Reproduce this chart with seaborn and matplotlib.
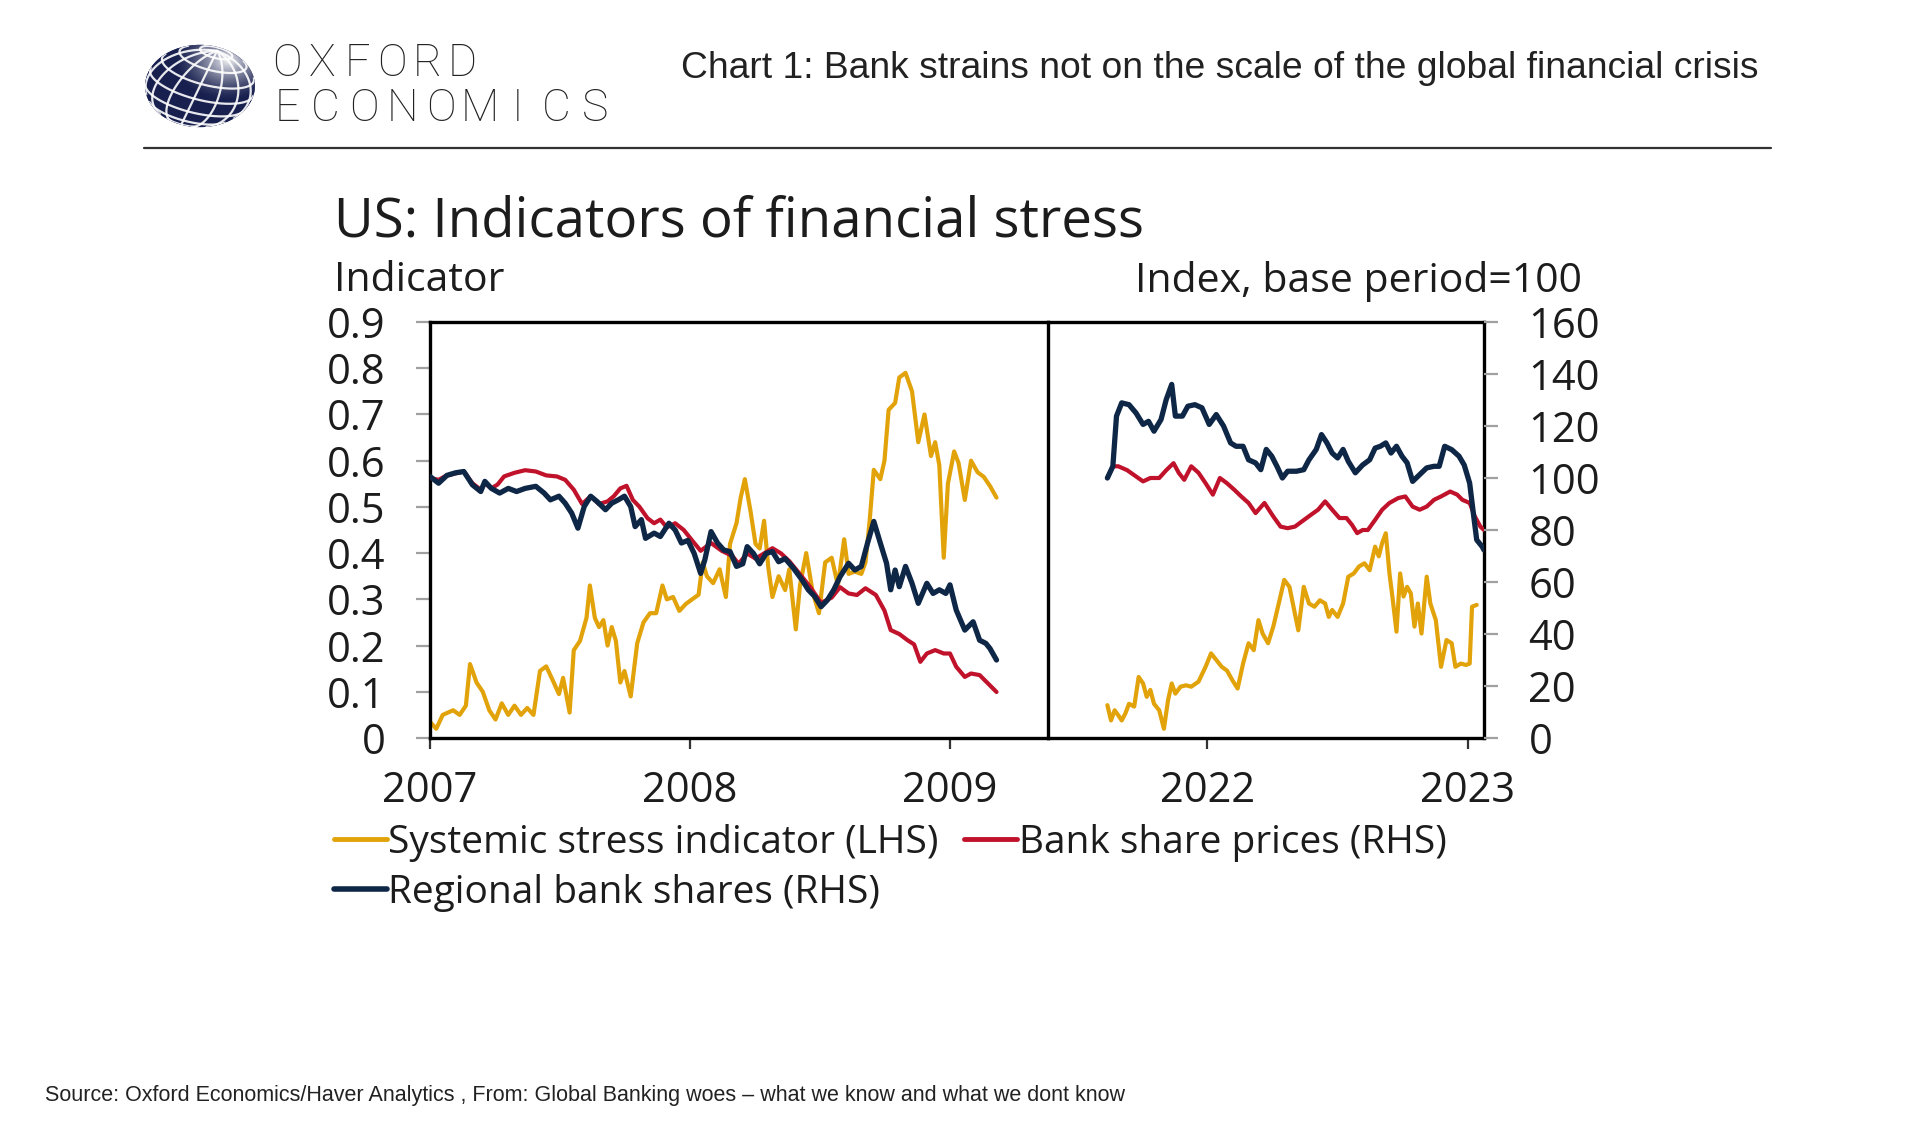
import numpy as np
import pandas as pd
import matplotlib
matplotlib.use("Agg")
import matplotlib.pyplot as plt
import seaborn as sns
from matplotlib.lines import Line2D
from matplotlib.patches import Ellipse
from matplotlib.colors import to_rgb
from matplotlib import font_manager

# ---------------- data ----------------
# 2007-09 panel
gfc_stress_year = [2007.000, 2007.024, 2007.049, 2007.089, 2007.114, 2007.138, 2007.154, 2007.179, 2007.203,
                   2007.228, 2007.252, 2007.276, 2007.301, 2007.325, 2007.350, 2007.374, 2007.398, 2007.423,
                   2007.447, 2007.472, 2007.496, 2007.512, 2007.537, 2007.553, 2007.577, 2007.602, 2007.615,
                   2007.634, 2007.650, 2007.667, 2007.683, 2007.699, 2007.715, 2007.732, 2007.748, 2007.772,
                   2007.797, 2007.821, 2007.846, 2007.870, 2007.894, 2007.911, 2007.935, 2007.959, 2007.984,
                   2008.008, 2008.033, 2008.049, 2008.065, 2008.089, 2008.114, 2008.138, 2008.154, 2008.179,
                   2008.195, 2008.211, 2008.233, 2008.252, 2008.268, 2008.285, 2008.301, 2008.317, 2008.341,
                   2008.366, 2008.382, 2008.407, 2008.423, 2008.447, 2008.472, 2008.496, 2008.520, 2008.545,
                   2008.569, 2008.593, 2008.610, 2008.634, 2008.659, 2008.675, 2008.691, 2008.707, 2008.732,
                   2008.748, 2008.764, 2008.789, 2008.805, 2008.829, 2008.854, 2008.878, 2008.902, 2008.927,
                   2008.943, 2008.959, 2008.976, 2008.992, 2009.016, 2009.033, 2009.057, 2009.081, 2009.106,
                   2009.130, 2009.154, 2009.179]
gfc_stress = [0.035, 0.02, 0.05, 0.06, 0.05, 0.07, 0.16, 0.12, 0.10,
              0.06, 0.04, 0.075, 0.05, 0.07, 0.05, 0.065, 0.05, 0.145,
              0.155, 0.125, 0.095, 0.13, 0.055, 0.19, 0.21, 0.26, 0.33,
              0.26, 0.24, 0.255, 0.20, 0.24, 0.21, 0.12, 0.145, 0.09,
              0.205, 0.25, 0.27, 0.27, 0.33, 0.30, 0.305, 0.275, 0.29,
              0.30, 0.31, 0.38, 0.35, 0.335, 0.365, 0.305, 0.42, 0.465,
              0.52, 0.56, 0.49, 0.42, 0.41, 0.47, 0.37, 0.305, 0.35,
              0.32, 0.365, 0.235, 0.33, 0.40, 0.315, 0.27, 0.38, 0.39,
              0.33, 0.43, 0.355, 0.36, 0.355, 0.38, 0.47, 0.58, 0.56,
              0.60, 0.71, 0.725, 0.78, 0.79, 0.75, 0.64, 0.70, 0.61,
              0.64, 0.59, 0.39, 0.55, 0.62, 0.595, 0.515, 0.60, 0.575,
              0.565, 0.545, 0.52]

gfc_bank_year = [2007.000, 2007.033, 2007.065, 2007.130, 2007.163, 2007.195, 2007.211, 2007.236, 2007.260,
                 2007.285, 2007.325, 2007.366, 2007.407, 2007.447, 2007.488, 2007.520, 2007.553, 2007.585,
                 2007.618, 2007.650, 2007.683, 2007.707, 2007.732, 2007.756, 2007.780, 2007.805, 2007.837,
                 2007.862, 2007.886, 2007.911, 2007.943, 2007.976, 2008.008, 2008.041, 2008.081, 2008.122,
                 2008.163, 2008.187, 2008.220, 2008.252, 2008.285, 2008.317, 2008.350, 2008.382, 2008.423,
                 2008.463, 2008.504, 2008.545, 2008.577, 2008.610, 2008.642, 2008.675, 2008.715, 2008.748,
                 2008.772, 2008.805, 2008.837, 2008.862, 2008.886, 2008.911, 2008.943, 2008.976, 2009.000,
                 2009.024, 2009.057, 2009.081, 2009.114, 2009.146, 2009.179]
gfc_bank = [100, 99.3, 101, 102.5, 98, 95.5, 98, 96, 97.5,
            100.6, 102, 103, 102.5, 101, 100.6, 99.3, 95.5, 90,
            93, 90, 91, 93, 96, 97, 91.6, 89, 84.5,
            82.6, 84, 81, 82.6, 80, 76, 72, 75, 72,
            70, 67, 71, 69, 71, 73, 71, 68, 63,
            58, 52, 54, 58, 55.6, 55, 57.6, 55, 49,
            41.5, 40, 37.6, 36, 29.3, 32.5, 33.8, 32.5, 32.5,
            27.4, 23.5, 24.8, 24.2, 21, 17.7]

gfc_regional_year = [2007.000, 2007.033, 2007.065, 2007.098, 2007.130, 2007.163, 2007.195, 2007.211, 2007.236,
                     2007.268, 2007.301, 2007.333, 2007.366, 2007.407, 2007.439, 2007.463, 2007.496, 2007.520,
                     2007.545, 2007.569, 2007.593, 2007.618, 2007.642, 2007.675, 2007.699, 2007.724, 2007.748,
                     2007.772, 2007.789, 2007.813, 2007.829, 2007.862, 2007.886, 2007.919, 2007.943, 2007.967,
                     2007.992, 2008.016, 2008.041, 2008.057, 2008.081, 2008.106, 2008.130, 2008.154, 2008.179,
                     2008.203, 2008.220, 2008.244, 2008.268, 2008.293, 2008.317, 2008.341, 2008.366, 2008.398,
                     2008.431, 2008.455, 2008.480, 2008.504, 2008.528, 2008.553, 2008.577, 2008.610, 2008.634,
                     2008.659, 2008.683, 2008.707, 2008.732, 2008.756, 2008.772, 2008.789, 2008.805, 2008.829,
                     2008.854, 2008.878, 2008.911, 2008.935, 2008.959, 2008.984, 2009.000, 2009.024, 2009.057,
                     2009.089, 2009.114, 2009.138, 2009.154, 2009.179]
gfc_regional = [100.6, 98, 101, 102, 102.5, 97.4, 94.8, 98.7, 96,
                94.2, 96, 94.8, 96, 96.8, 94.2, 91.6, 93, 90.3,
                86.5, 80.7, 89, 93, 91, 87.8, 90.3, 91.6, 93,
                89, 81.3, 84, 76.8, 78.8, 77.5, 82.6, 80, 75,
                76, 71, 63.3, 68.5, 79.4, 75, 72.3, 71.7, 66,
                67, 73.6, 71, 67, 71, 71.7, 67.8, 69, 65.3,
                60.8, 57, 54.4, 50.5, 53, 57, 62, 67.2, 64.6,
                66, 75, 83.3, 75, 67.2, 57, 64.6, 58.2, 66,
                59.5, 51.8, 59.5, 55.6, 57, 55.6, 58.9, 49.2, 41.5,
                44.7, 37.6, 36.4, 34.4, 30]

# 2021-23 panel
now_stress_year = [2021.616, 2021.630, 2021.644, 2021.658, 2021.671, 2021.685, 2021.699, 2021.719, 2021.736,
                   2021.753, 2021.767, 2021.781, 2021.795, 2021.815, 2021.833, 2021.849, 2021.863, 2021.877,
                   2021.897, 2021.918, 2021.938, 2021.966, 2021.993, 2022.014, 2022.034, 2022.055, 2022.075,
                   2022.096, 2022.116, 2022.137, 2022.158, 2022.178, 2022.196, 2022.212, 2022.233, 2022.253,
                   2022.274, 2022.295, 2022.315, 2022.336, 2022.349, 2022.370, 2022.390, 2022.411, 2022.432,
                   2022.452, 2022.466, 2022.479, 2022.500, 2022.521, 2022.541, 2022.562, 2022.582, 2022.603,
                   2022.623, 2022.644, 2022.658, 2022.671, 2022.685, 2022.699, 2022.712, 2022.726, 2022.740,
                   2022.753, 2022.767, 2022.781, 2022.795, 2022.808, 2022.822, 2022.842, 2022.856, 2022.877,
                   2022.897, 2022.918, 2022.938, 2022.952, 2022.973, 2022.993, 2023.007, 2023.016, 2023.034]
now_stress = [0.071, 0.038, 0.060, 0.049, 0.038, 0.053, 0.074, 0.068, 0.132,
              0.118, 0.089, 0.104, 0.074, 0.060, 0.020, 0.082, 0.118, 0.096,
              0.111, 0.114, 0.111, 0.122, 0.154, 0.183, 0.169, 0.154, 0.146,
              0.125, 0.107, 0.161, 0.205, 0.190, 0.255, 0.226, 0.205, 0.241,
              0.291, 0.342, 0.327, 0.269, 0.233, 0.327, 0.291, 0.284, 0.298,
              0.291, 0.262, 0.277, 0.262, 0.291, 0.349, 0.356, 0.371, 0.378,
              0.363, 0.414, 0.393, 0.422, 0.443, 0.356, 0.298, 0.230, 0.356,
              0.306, 0.327, 0.313, 0.241, 0.291, 0.226, 0.349, 0.291, 0.255,
              0.154, 0.212, 0.205, 0.154, 0.161, 0.158, 0.161, 0.284, 0.288]

now_bank_year = [2021.616, 2021.637, 2021.658, 2021.692, 2021.726, 2021.753, 2021.781, 2021.815, 2021.842,
                 2021.870, 2021.890, 2021.911, 2021.938, 2021.966, 2021.993, 2022.021, 2022.048, 2022.075,
                 2022.103, 2022.130, 2022.158, 2022.185, 2022.219, 2022.253, 2022.281, 2022.308, 2022.336,
                 2022.363, 2022.397, 2022.425, 2022.452, 2022.479, 2022.507, 2022.534, 2022.555, 2022.575,
                 2022.596, 2022.616, 2022.644, 2022.671, 2022.699, 2022.733, 2022.760, 2022.788, 2022.815,
                 2022.842, 2022.870, 2022.897, 2022.932, 2022.959, 2022.979, 2023.007, 2023.027, 2023.048,
                 2023.062]
now_bank = [100, 104.5, 104.5, 103, 100.6, 98.7, 100, 100, 103,
            105.7, 102, 99.3, 104.5, 102, 98, 93.6, 100, 98,
            95.5, 92.9, 90.4, 86.5, 90.4, 85.2, 81.3, 80.7, 81.3,
            83.3, 85.8, 87.8, 91, 87.8, 84.6, 84.6, 82, 78.8,
            80, 80, 83.9, 87.8, 90.4, 92.3, 92.9, 89, 87.8,
            89, 91.6, 92.9, 94.8, 93.6, 91.6, 90.4, 85.2, 81.3,
            80]

now_regional_year = [2021.616, 2021.637, 2021.651, 2021.671, 2021.699, 2021.726, 2021.753, 2021.774, 2021.795,
                     2021.822, 2021.842, 2021.863, 2021.877, 2021.904, 2021.925, 2021.952, 2021.979, 2022.007,
                     2022.034, 2022.062, 2022.089, 2022.110, 2022.137, 2022.158, 2022.185, 2022.205, 2022.226,
                     2022.247, 2022.267, 2022.288, 2022.308, 2022.342, 2022.370, 2022.390, 2022.418, 2022.438,
                     2022.459, 2022.479, 2022.500, 2022.521, 2022.541, 2022.568, 2022.596, 2022.623, 2022.644,
                     2022.664, 2022.685, 2022.705, 2022.726, 2022.747, 2022.767, 2022.788, 2022.815, 2022.842,
                     2022.870, 2022.890, 2022.911, 2022.938, 2022.966, 2022.986, 2023.007, 2023.021, 2023.034,
                     2023.055, 2023.062]
now_regional = [100, 104.5, 123.8, 128.9, 128.2, 125, 120.6, 121.8, 118,
                122.5, 130.2, 136, 123.8, 123.8, 127.6, 128.2, 127, 120.6,
                124.4, 120, 113.5, 112.2, 112.2, 107, 105.8, 103.2, 111,
                108.4, 104.5, 100, 102.6, 102.6, 103.2, 107, 111, 116.7,
                113.5, 109.6, 107.7, 111, 106.4, 102, 105, 107, 111.5,
                112.2, 113.5, 109.6, 112.2, 108.4, 105.8, 98.7, 101.3, 103.9,
                104.5, 104.5, 112.2, 110.9, 108.4, 105, 98, 86.5, 76.2,
                73.6, 72.3]

series_names = ["Systemic stress indicator (LHS)", "Bank share prices (RHS)", "Regional bank shares (RHS)"]
lhs_ticks = [0, 0.1, 0.2, 0.3, 0.4, 0.5, 0.6, 0.7, 0.8, 0.9]
lhs_labels = ["0", "0.1", "0.2", "0.3", "0.4", "0.5", "0.6", "0.7", "0.8", "0.9"]
rhs_ticks = [0, 20, 40, 60, 80, 100, 120, 140, 160]
gfc_year_ticks = [2007, 2008, 2009]
now_year_ticks = [2022, 2023]

# ---------------- style ----------------
sns.set_theme(style="white")
plt.rcParams["font.family"] = ["Open Sans", "DejaVu Sans"]

YELLOW = "#E2A30A"
RED = "#C0122B"
NAVY = "#0F2747"
INK = "#1c1c1c"

W, H = 1920, 1125


def box(x0, y0, x1, y1):
    return [x0 / W, 1 - y1 / H, (x1 - x0) / W, (y1 - y0) / H]


fig = plt.figure(figsize=(19.2, 11.25), dpi=100)
fig.patch.set_facecolor("white")

axL = fig.add_axes(box(430, 322, 1048, 738))
axR = fig.add_axes(box(1048, 322, 1484, 738))
axR.patch.set_alpha(0)
axL2 = axL.twinx()
axR2 = axR.twinx()

# lines
sns.lineplot(x=gfc_stress_year, y=gfc_stress, ax=axL, color=YELLOW, lw=3.0)
sns.lineplot(x=gfc_bank_year, y=gfc_bank, ax=axL2, color=RED, lw=3.0)
sns.lineplot(x=gfc_regional_year, y=gfc_regional, ax=axL2, color=NAVY, lw=3.8)
sns.lineplot(x=now_stress_year, y=now_stress, ax=axR, color=YELLOW, lw=3.0)
sns.lineplot(x=now_bank_year, y=now_bank, ax=axR2, color=RED, lw=3.0)
sns.lineplot(x=now_regional_year, y=now_regional, ax=axR2, color=NAVY, lw=3.8)

axL.set_xlim(2007, 2009.377)
axR.set_xlim(2021.388, 2023.062)
for a in (axL, axR):
    a.set_ylim(0, 0.9)
for a in (axL2, axR2):
    a.set_ylim(0, 160)

for a in (axL, axR, axL2, axR2):
    a.set_xlabel("")
    a.set_ylabel("")
    a.grid(False)

# ticks
axL.set_yticks(lhs_ticks, labels=lhs_labels)
axL.tick_params(axis="y", left=True, right=False, direction="out", length=10, width=1.6,
                color="#a0a0a0", pad=22, labelsize=30, labelcolor=INK)
axR.set_yticks([])
axL2.set_yticks([])
axR2.set_yticks(rhs_ticks, labels=[str(t) for t in rhs_ticks])
axR2.tick_params(axis="y", right=True, left=False, direction="out", length=10, width=1.6,
                 color="#a0a0a0", pad=22, labelsize=30, labelcolor=INK)

axL.set_xticks(gfc_year_ticks, labels=[str(t) for t in gfc_year_ticks])
axR.set_xticks(now_year_ticks, labels=[str(t) for t in now_year_ticks])
for a in (axL, axR):
    a.tick_params(axis="x", bottom=True, direction="out", length=8, width=1.6,
                  color="#333333", pad=15, labelsize=30, labelcolor=INK)

for a in (axL, axR):
    for s in a.spines.values():
        s.set_color("black")
        s.set_linewidth(2.4)
axR.spines["left"].set_visible(False)
for a in (axL2, axR2):
    for s in a.spines.values():
        s.set_visible(False)

# titles and axis captions
fig.text(334 / W, 1 - 222 / H, "US: Indicators of financial stress", fontsize=39.3,
         color=INK, ha="left", va="center")
fig.text(334 / W, 1 - 281 / H, "Indicator", fontsize=29.5, color=INK, ha="left", va="center")
fig.text(1582 / W, 1 - 281 / H, "Index, base period=100", fontsize=29.5, color=INK,
         ha="right", va="center")

# legend
handles = [Line2D([], [], color=YELLOW, lw=3.5),
           Line2D([], [], color=NAVY, lw=4),
           Line2D([], [], color=RED, lw=3.5)]
fig.legend(handles, [series_names[0], series_names[2], series_names[1]],
           loc="upper left", bbox_to_anchor=(334 / W, 1 - 824 / H), ncol=2, frameon=False,
           fontsize=28, handlelength=1.35, handletextpad=0.05, columnspacing=0.65,
           labelspacing=0.3, borderpad=0, borderaxespad=0, labelcolor=INK)

# ---------------- header ----------------
fig.text(681 / W, 1 - 68 / H, "Chart 1: Bank strains not on the scale of the global financial crisis",
         fontsize=26.8, family=["Liberation Sans", "DejaVu Sans"], color="#222222",
         ha="left", va="center")
fig.add_artist(Line2D([144 / W, 1771 / W], [1 - 148 / H, 1 - 148 / H], color="#333333", lw=1.6))

available = {f.name for f in font_manager.fontManager.ttflist}
logo_family = "Liberation Sans Narrow" if "Liberation Sans Narrow" in available else "Roboto"
for i, ch in enumerate("OXFORD"):
    fig.text((287 + 35 * i) / W, 1 - 64 / H, ch, fontsize=32, family=[logo_family, "DejaVu Sans"],
             fontweight="light", color="#222222", ha="center", va="center")
for i, ch in enumerate("ECONOMICS"):
    fig.text((287 + 38.5 * i) / W, 1 - 109 / H, ch, fontsize=32, family=[logo_family, "DejaVu Sans"],
             fontweight="light", color="#222222", ha="center", va="center")

# globe emblem
gax = fig.add_axes(box(144, 44, 256, 128))
gax.set_xlim(-1.02, 1.02)
gax.set_ylim(-1.02, 1.02)
gax.axis("off")
globe = Ellipse((0, 0), 2, 2, facecolor="#1b2354", edgecolor="none")
gax.add_patch(globe)
yy, xx = np.mgrid[-1:1:240j, -1:1:240j]
d = np.hypot(xx - 0.5, yy - 0.6)
shade = np.clip(1 - d / 0.95, 0, 1) ** 1.4
base = np.array(to_rgb("#18204f"))
rgba = np.ones((240, 240, 4))
rgba[..., :3] = base + (1 - base) * shade[..., None] * 0.92
im = gax.imshow(rgba, extent=(-1, 1, -1, 1), origin="lower", aspect="auto", zorder=2)
im.set_clip_path(globe)

lat0 = np.radians(25)
rot = np.radians(-20)


def project(lon, lat):
    x = np.cos(lat) * np.sin(lon)
    y = np.cos(lat0) * np.sin(lat) - np.sin(lat0) * np.cos(lat) * np.cos(lon)
    vis = np.sin(lat0) * np.sin(lat) + np.cos(lat0) * np.cos(lat) * np.cos(lon) > 0
    xr = x * np.cos(rot) - y * np.sin(rot)
    yr = x * np.sin(rot) + y * np.cos(rot)
    xr = np.where(vis, xr, np.nan)
    return xr, yr


t = np.linspace(-np.pi / 2, np.pi / 2, 200)
for lon_deg in range(-75, 90, 25):
    px, py = project(np.full_like(t, np.radians(lon_deg)), t)
    ln, = gax.plot(px, py, color="white", lw=1.6, alpha=0.9, zorder=3)
    ln.set_clip_path(globe)
s = np.linspace(-np.pi, np.pi, 300)
for lat_deg in range(-60, 80, 22):
    px, py = project(s, np.full_like(s, np.radians(lat_deg)))
    ln, = gax.plot(px, py, color="white", lw=1.6, alpha=0.9, zorder=3)
    ln.set_clip_path(globe)

# source line
fig.text(45 / W, 1 - 1096 / H,
         "Source: Oxford Economics/Haver Analytics , From: Global Banking woes \u2013 what we know and what we dont know",
         fontsize=15.5, family=["Liberation Sans", "DejaVu Sans"], color="#222222", ha="left", va="center")

fig.savefig("out.png", dpi=100, facecolor="white")
